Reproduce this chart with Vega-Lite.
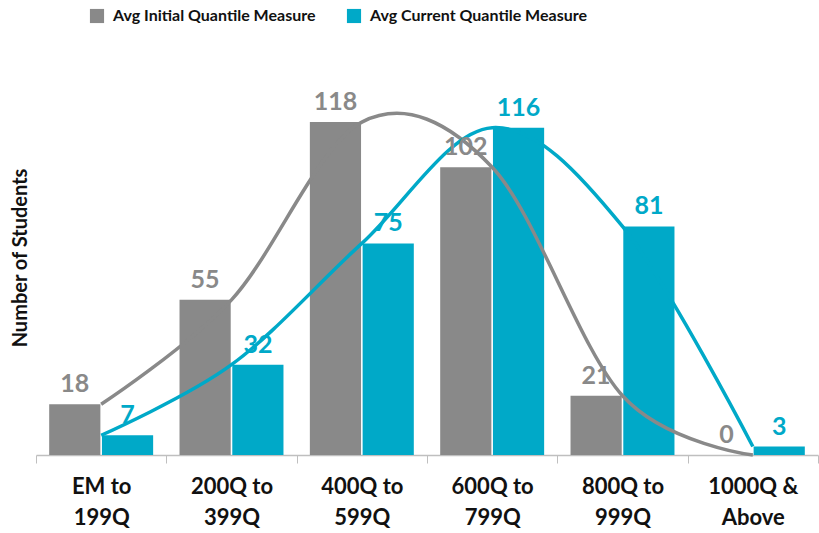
{
  "$schema": "https://vega.github.io/schema/vega-lite/v6.json",
  "width": 782,
  "height": 395,
  "autosize": {"type": "none"},
  "padding": {"left": 36, "top": 60, "right": 1, "bottom": 78},
  "config": {
    "font": "Lato",
    "view": {"stroke": null}
  },
  "data": {
    "values": [
      {"range": "EM to 199Q", "series": "Avg Initial Quantile Measure", "students": 18},
      {"range": "EM to 199Q", "series": "Avg Current Quantile Measure", "students": 7},
      {"range": "200Q to 399Q", "series": "Avg Initial Quantile Measure", "students": 55},
      {"range": "200Q to 399Q", "series": "Avg Current Quantile Measure", "students": 32},
      {"range": "400Q to 599Q", "series": "Avg Initial Quantile Measure", "students": 118},
      {"range": "400Q to 599Q", "series": "Avg Current Quantile Measure", "students": 75},
      {"range": "600Q to 799Q", "series": "Avg Initial Quantile Measure", "students": 102},
      {"range": "600Q to 799Q", "series": "Avg Current Quantile Measure", "students": 116},
      {"range": "800Q to 999Q", "series": "Avg Initial Quantile Measure", "students": 21},
      {"range": "800Q to 999Q", "series": "Avg Current Quantile Measure", "students": 81},
      {"range": "1000Q & Above", "series": "Avg Initial Quantile Measure", "students": 0},
      {"range": "1000Q & Above", "series": "Avg Current Quantile Measure", "students": 3}
    ]
  },
  "encoding": {
    "x": {
      "field": "range",
      "type": "nominal",
      "sort": null,
      "scale": {"paddingInner": 0, "paddingOuter": 0},
      "axis": {
        "title": null,
        "labelAngle": 0,
        "labelFontSize": 22,
        "labelFontWeight": "bold",
        "labelColor": "#111111",
        "labelLineHeight": 31,
        "labelPadding": 13,
        "labelExpr": "[substring(datum.label, 0, lastindexof(datum.label, ' ')), substring(datum.label, lastindexof(datum.label, ' ') + 1)]",
        "tickBand": "extent",
        "tickSize": 8,
        "tickColor": "#bfbfbf",
        "domainColor": "#bfbfbf",
        "domainWidth": 1.5,
        "labelBaseline": "top"
      }
    },
    "y": {
      "field": "students",
      "type": "quantitative",
      "scale": {"domain": [0, 140], "nice": false},
      "axis": {
        "title": "Number of Students",
        "titleFontSize": 20,
        "titleFontWeight": "bold",
        "titleColor": "#111111",
        "titlePadding": 6,
        "labels": false,
        "ticks": false,
        "domain": false,
        "grid": false
      }
    },
    "color": {
      "field": "series",
      "type": "nominal",
      "sort": ["Avg Initial Quantile Measure", "Avg Current Quantile Measure"],
      "scale": {
        "domain": ["Avg Initial Quantile Measure", "Avg Current Quantile Measure"],
        "range": ["#898989", "#00a9c8"]
      },
      "legend": {
        "title": null,
        "orient": "none",
        "direction": "horizontal",
        "legendX": 53,
        "legendY": -52,
        "symbolType": "square",
        "symbolSize": 200,
        "symbolStrokeWidth": 0,
        "labelFontSize": 16,
        "labelFontWeight": "bold",
        "labelColor": "#111111",
        "labelLimit": 400,
        "columnPadding": 30,
        "labelOffset": 8
      }
    }
  },
  "layer": [
    {
      "mark": {"type": "bar"},
      "encoding": {
        "xOffset": {
          "field": "series",
          "type": "nominal",
          "sort": ["Avg Initial Quantile Measure", "Avg Current Quantile Measure"],
          "scale": {"paddingInner": 0.03, "paddingOuter": 0.25}
        }
      }
    },
    {
      "mark": {"type": "line", "interpolate": "cardinal", "strokeWidth": 3.5},
      "encoding": {}
    },
    {
      "mark": {"type": "text", "dy": -20, "fontSize": 25, "fontWeight": "bold"},
      "encoding": {
        "xOffset": {
          "field": "series",
          "type": "nominal",
          "sort": ["Avg Initial Quantile Measure", "Avg Current Quantile Measure"]
        },
        "text": {"field": "students", "type": "quantitative"},
        "color": {
          "field": "series",
          "type": "nominal",
          "scale": {
            "domain": ["Avg Initial Quantile Measure", "Avg Current Quantile Measure"],
            "range": ["#898989", "#00a9c8"]
          },
          "legend": null
        }
      }
    }
  ]
}
